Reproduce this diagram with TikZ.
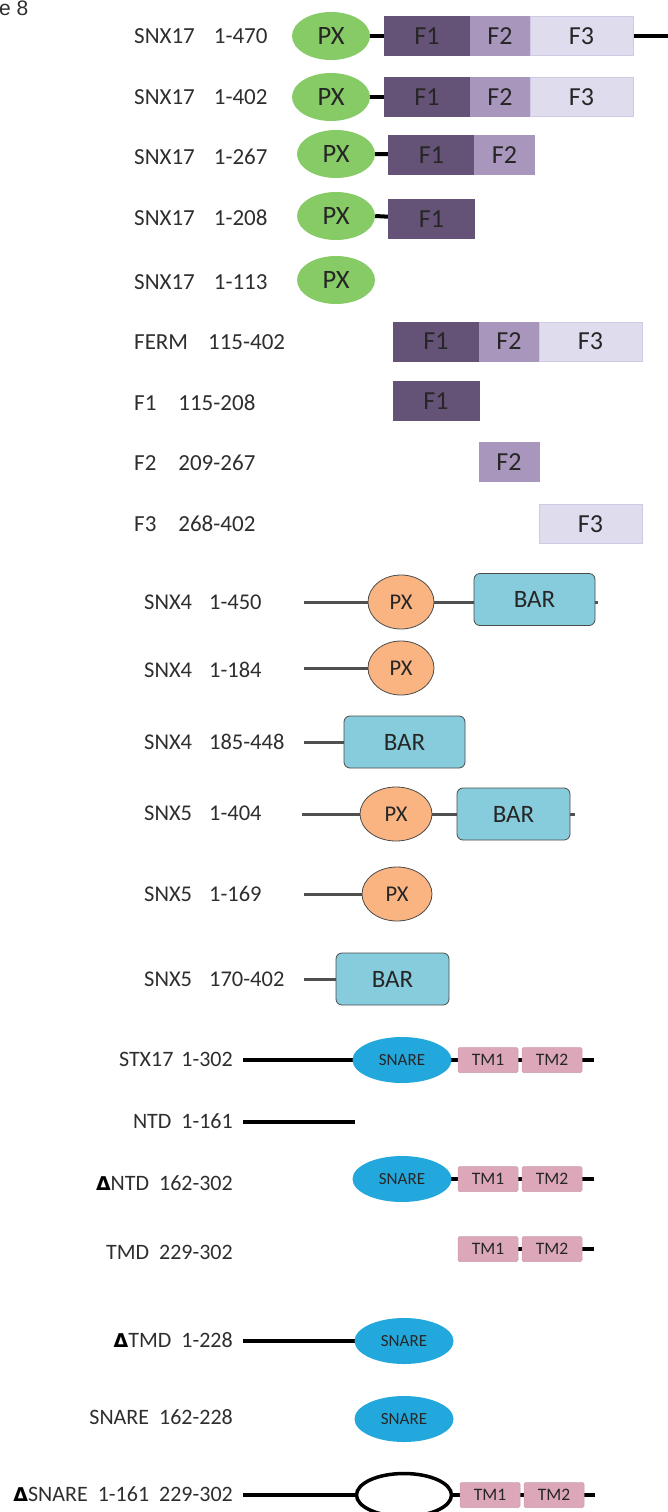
\documentclass[tikz,border=0pt]{standalone}
\usepackage{fontspec}
\setmainfont{Carlito}
\newfontfamily\titlefont{Liberation Sans}
\newfontfamily\symfont{DejaVu Sans}
\usetikzlibrary{shapes.geometric,backgrounds}

\definecolor{txt}{HTML}{2E2E2E}
\definecolor{dtxt}{HTML}{262626}
\definecolor{pxgreen}{HTML}{86CB66}
\definecolor{fone}{HTML}{655377}
\definecolor{ftwo}{HTML}{A996BD}
\definecolor{fthree}{HTML}{DFDCEE}
\definecolor{fthreeedge}{HTML}{CFC9E3}
\definecolor{pxorange}{HTML}{FAB482}
\definecolor{barblue}{HTML}{87CCDC}
\definecolor{edge}{HTML}{4A4A4A}
\definecolor{linkgray}{HTML}{505050}
\definecolor{snareblue}{HTML}{22A8DC}
\definecolor{tmpink}{HTML}{DDA7BA}

\tikzset{
  lab/.style={anchor=west, inner sep=0, text=txt, font=\fontsize{23}{27}\selectfont},
  labs/.style={anchor=west, inner sep=0, text=txt, font=\fontsize{22.5}{26}\selectfont},
  labr/.style={anchor=east, inner sep=0, text=txt, font=\fontsize{22}{26}\selectfont},
  pxg/.style={ellipse, fill=pxgreen, inner sep=0, minimum width=78pt, minimum height=48pt,
    text=dtxt, font=\fontsize{26.5}{26}\selectfont},
  fbase/.style={rectangle, inner sep=0, minimum height=39pt, text=dtxt,
    font=\fontsize{26}{26}\selectfont, line width=0.6pt},
  fa/.style={fbase, fill=fone, draw=fone, minimum width=86pt},
  fbb/.style={fbase, fill=ftwo, draw=ftwo, minimum width=60pt},
  fc/.style={fbase, fill=fthree, draw=fthreeedge, minimum width=103pt},
  blk/.style={line width=4pt, black},
  gl/.style={line width=3pt, linkgray},
  pxo/.style={ellipse, fill=pxorange, draw=edge, line width=0.8pt, inner sep=0,
    minimum width=66pt, minimum height=54pt, text=dtxt, font=\fontsize{22.5}{22}\selectfont},
  barbox/.style={rectangle, rounded corners=6pt, fill=barblue, draw=edge, line width=0.8pt,
    inner sep=0, minimum height=52pt, text=dtxt, font=\fontsize{25}{25}\selectfont},
  snarebox/.style={ellipse, fill=snareblue, inner sep=0, minimum width=99pt, minimum height=46pt,
    text=dtxt, font=\fontsize{17}{17}\selectfont},
  hollow/.style={ellipse, fill=white, draw=black, line width=3.5pt, inner sep=0,
    minimum width=95pt, minimum height=43pt},
  tmbox/.style={rectangle, rounded corners=1.5pt, fill=tmpink, draw=tmpink!92!black, line width=0.5pt,
    inner sep=0, minimum width=60pt, minimum height=25pt, text=dtxt, font=\fontsize{17.5}{17}\selectfont}
}
\newcommand{\tri}{{\symfont\bfseries\fontsize{19}{19}\selectfont\color{black}Δ}}

\begin{document}
\begin{tikzpicture}[x=1pt,y=-1pt]
\useasboundingbox (0,0) rectangle (668,1512);

% figure number (partly cut off)
\node[anchor=west, inner sep=0, text=txt, font=\titlefont\fontsize{21}{21}\selectfont] (ttl) at (-1,8.5) {e 8};

% ---------------- SNX17 constructs ----------------
\node[lab] (l1) at (134,36) {SNX17\hspace{19pt}1-470};
\node[pxg] (p1) at (331,36) {PX};
\node[fa]  (a1) at (427,36) {F1};
\node[fbb] (b1) at (500,36) {F2};
\node[fc]  (c1) at (581.5,36) {F3};
\coordinate (e1) at (672,36);

\node[lab] (l2) at (134,97) {SNX17\hspace{19pt}1-402};
\node[pxg] (p2) at (331,97) {PX};
\node[fa]  (a2) at (427,97) {F1};
\node[fbb] (b2) at (500,97) {F2};
\node[fc]  (c2) at (581.5,97) {F3};

\node[lab] (l3) at (134,157) {SNX17\hspace{19pt}1-267};
\node[pxg] (p3) at (336,154) {PX};
\node[fa]  (a3) at (431.5,155) {F1};
\node[fbb] (b3) at (504.5,155) {F2};

\node[lab] (l4) at (134,218) {SNX17\hspace{19pt}1-208};
\node[pxg] (p4) at (336,216) {PX};
\node[fa]  (a4) at (431.5,219) {F1};

\node[lab] (l5) at (134,282) {SNX17\hspace{19pt}1-113};
\node[pxg] (p5) at (336,280) {PX};

% ---------------- FERM subdomains ----------------
\node[lab] (l6) at (134,342) {FERM\hspace{20pt}115-402};
\node[fa]  (a6) at (436,341.5) {F1};
\node[fbb] (b6) at (509,341.5) {F2};
\node[fc]  (c6) at (590.5,341.5) {F3};

\node[lab] (l7) at (134,403) {F1\hspace{22pt}115-208};
\node[fa]  (a7) at (436,401) {F1};

\node[lab] (l8) at (134,463) {F2\hspace{22pt}209-267};
\node[fbb] (b8) at (509,462) {F2};

\node[lab] (l9) at (134,524) {F3\hspace{22pt}268-402};
\node[fc]  (c9) at (590.5,524) {F3};

% ---------------- SNX4 / SNX5 constructs ----------------
\node[labs] (m1) at (144,602) {SNX4\hspace{17pt}1-450};
\coordinate (m1s) at (304,602);
\node[pxo] (o1) at (401,602) {PX};
\node[barbox, minimum width=121pt] (r1) at (534.5,599.5) {BAR};
\coordinate (m1e) at (598,602);

\node[labs] (m2) at (144,670) {SNX4\hspace{17pt}1-184};
\coordinate (m2s) at (304,668);
\node[pxo] (o2) at (401,668) {PX};

\node[labs] (m3) at (144,742) {SNX4\hspace{17pt}185-448};
\coordinate (m3s) at (304,742);
\node[barbox, minimum width=121pt] (r3) at (404.5,742) {BAR};

\node[labs] (m4) at (144,813) {SNX5\hspace{17pt}1-404};
\coordinate (m4s) at (302,814);
\node[pxo, minimum width=72pt] (o4) at (396,814) {PX};
\node[barbox, minimum width=113pt] (r4) at (513.5,814) {BAR};
\coordinate (m4e) at (575,814);

\node[labs] (m5) at (144,894) {SNX5\hspace{17pt}1-169};
\coordinate (m5s) at (304,894);
\node[pxo, minimum width=70pt] (o5) at (397,894) {PX};

\node[labs] (m6) at (144,979) {SNX5\hspace{17pt}170-402};
\coordinate (m6s) at (304,979);
\node[barbox, minimum width=113pt] (r6) at (392.5,979) {BAR};

% ---------------- STX17 constructs ----------------
\node[labr] (s1) at (233,1059) {STX17\hspace{8pt}1-302};
\coordinate (s1s) at (243,1060);
\node[snarebox] (n1) at (402,1060) {SNARE};
\node[tmbox] (t1) at (488,1060) {TM1};
\node[tmbox] (u1) at (552,1060) {TM2};
\coordinate (s1e) at (594,1060);

\node[labr] (s2) at (233,1121) {NTD\hspace{10pt}1-161};
\coordinate (s2s) at (243,1122);
\coordinate (s2e) at (355,1122);

\node[labr] (s3) at (233,1183) {\tri NTD\hspace{10pt}162-302};
\node[snarebox] (n3) at (402,1179) {SNARE};
\node[tmbox] (t3) at (488,1179) {TM1};
\node[tmbox] (u3) at (552,1179) {TM2};
\coordinate (s3e) at (594,1179);

\node[labr] (s4) at (233,1252) {TMD\hspace{10pt}229-302};
\node[tmbox] (t4) at (488,1249) {TM1};
\node[tmbox] (u4) at (552,1249) {TM2};
\coordinate (s4e) at (594,1249);

\node[labr] (s5) at (233,1340) {\tri TMD\hspace{10pt}1-228};
\coordinate (s5s) at (243,1341);
\node[snarebox] (n5) at (404,1341) {SNARE};

\node[labr] (s6) at (233,1417) {SNARE\hspace{10pt}162-228};
\node[snarebox] (n6) at (404,1419) {SNARE};

\node[labr] (s7) at (233,1494) {\tri SNARE\hspace{10pt}1-161\hspace{10pt}229-302};
\coordinate (s7s) at (243,1495);
\node[hollow] (h7) at (404,1495) {};
\node[tmbox] (t7) at (490,1495) {TM1};
\node[tmbox] (u7) at (554,1495) {TM2};
\coordinate (s7e) at (595,1495);

% ---------------- linkers (behind the domains) ----------------
\begin{scope}[on background layer]
  \draw[blk] (p1.center) -- (a1.center);
  \draw[blk] (c1.center) -- (e1);
  \draw[blk] (p2.center) -- (a2.center);
  \draw[blk] (p3.east) -- (a3.center);
  \draw[blk] (p4.east) -- (a4.center);

  \draw[gl] (m1s) -- (o1.center) -- (r1.center |- o1.center) -- (m1e);
  \draw[gl] (m2s) -- (o2.center);
  \draw[gl] (m3s) -- (r3.center);
  \draw[gl] (m4s) -- (o4.center) -- (r4.center) -- (m4e);
  \draw[gl] (m5s) -- (o5.center);
  \draw[gl] (m6s) -- (r6.center);

  \draw[blk] (s1s) -- (n1.center) -- (t1.center) -- (u1.center) -- (s1e);
  \draw[blk] (s2s) -- (s2e);
  \draw[blk] (n3.center) -- (t3.center) -- (u3.center) -- (s3e);
  \draw[blk] (t4.center) -- (u4.center) -- (s4e);
  \draw[blk] (s5s) -- (n5.center);
  \draw[blk] (s7s) -- (h7.center) -- (t7.center) -- (u7.center) -- (s7e);
\end{scope}
\end{tikzpicture}
\end{document}
